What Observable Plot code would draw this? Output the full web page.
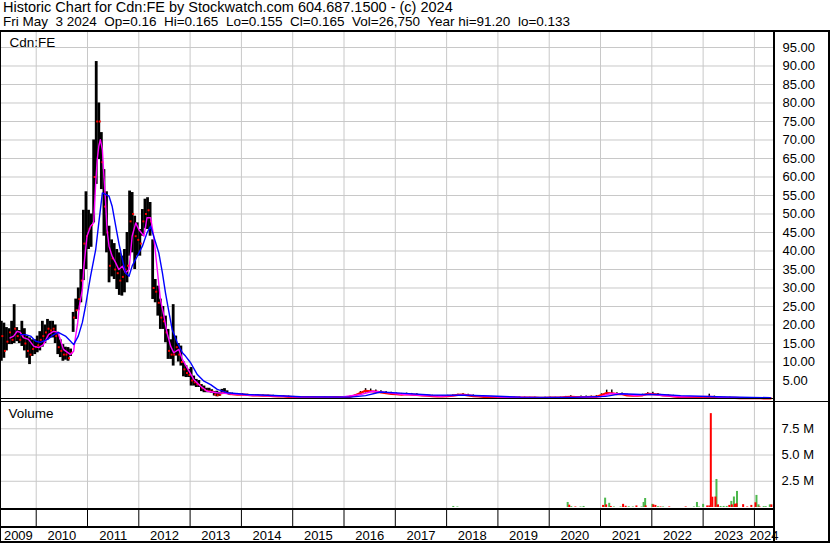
<!DOCTYPE html>
<html><head><meta charset="utf-8">
<script src="https://cdn.jsdelivr.net/npm/d3@7"></script>
<script src="https://cdn.jsdelivr.net/npm/@observablehq/plot@0.6"></script>
<style>
body{margin:0;background:#fff;}
#wrap{position:relative;width:830px;height:543px;overflow:hidden;font-family:"Liberation Sans",Arial,sans-serif;background:#fff;}
.ln{position:absolute;background:#000;}
.hdr{position:absolute;left:3px;line-height:14px;height:14px;white-space:pre;color:#000;}
.panel{position:absolute;left:0;}
.panel svg{display:block;overflow:visible;}
</style></head><body>
<div id="wrap">
<div class="hdr" id="h1" style="top:0px;font-size:14.5px"></div>
<div class="hdr" id="h2" style="top:15px;font-size:13.5px"></div>
<div id="price" class="panel" style="top:32px"></div>
<div id="vol" class="panel" style="top:402px"></div>
<div id="xax" class="panel" style="top:510px"></div>
<div class="ln" style="left:0;top:30px;width:830px;height:2px"></div>
<div class="ln" style="left:0;top:30px;width:1px;height:513px"></div>
<div class="ln" style="left:828px;top:30px;width:2px;height:513px"></div>
<div class="ln" style="left:773px;top:30px;width:2px;height:513px"></div>
<div class="ln" style="left:0;top:398px;width:774px;height:1px"></div>
<div class="ln" style="left:0;top:401px;width:830px;height:1px"></div>
<div class="ln" style="left:0;top:508px;width:775px;height:2px"></div>
<div class="ln" style="left:0;top:526px;width:775px;height:2px"></div>
<div class="ln" style="left:0;top:541px;width:830px;height:2px"></div>
</div>
<script>
const titleLine1 = "Historic Chart for Cdn:FE by Stockwatch.com 604.687.1500 - (c) 2024";
const titleLine2 = "Fri May  3 2024  Op=0.16  Hi=0.165  Lo=0.155  Cl=0.165  Vol=26,750  Year hi=91.20  lo=0.133";
const symbolLabel = "Cdn:FE";
const volumeLabel = "Volume";

const xDomain = [2009.304, 2024.372];
const gridYears = [2010,2011,2012,2013,2014,2015,2016,2017,2018,2019,2020,2021,2022,2023,2024];
const yearLabels = [2009,2010,2011,2012,2013,2014,2015,2016,2017,2018,2019,2020,2021,2022,2023,2024];
const priceTicks = [5,10,15,20,25,30,35,40,45,50,55,60,65,70,75,80,85,90,95];
const volumeTicks = [2.5,5,7.5];

// price bars (decimal year, low, high, close)
const barDate = [
2009.32,2009.37,2009.42,2009.47,2009.52,2009.57,2009.62,2009.67,2009.72,2009.77,2009.82,2009.87,2009.92,2009.97,
2010.02,2010.07,2010.12,2010.17,2010.22,2010.27,2010.32,2010.37,2010.42,2010.47,2010.52,2010.57,2010.62,2010.67,2010.72,2010.77,2010.82,2010.87,2010.92,2010.97,
2011.02,2011.07,2011.12,2011.17,2011.22,2011.27,2011.32,2011.37,2011.42,2011.47,2011.52,2011.57,2011.62,2011.67,2011.72,2011.77,2011.82,2011.87,2011.92,2011.97,
2012.02,2012.07,2012.12,2012.17,2012.22,2012.27,2012.32,2012.37,2012.42,2012.47,2012.52,2012.57,2012.62,2012.67,2012.72,2012.77,2012.82,2012.87,2012.92,2012.97,
2013.02,2013.07,2013.12,2013.17,2013.22,2013.27,2013.32,2013.37,2013.42,2013.47,2013.52,2013.57,2013.62,2013.67,2013.72,2013.77,
2013.82,2013.92,2014.02,2014.12,2014.22,2014.32,2014.42,2014.52,2014.62,2014.72,2014.82,2014.92,
2015.02,2015.12,2015.22,2015.32,2015.42,2015.52,2015.62,2015.72,2015.82,2015.92,
2016.02,2016.12,2016.22,2016.32,2016.42,2016.52,2016.62,2016.72,2016.82,2016.92,
2017.02,2017.12,2017.22,2017.32,2017.42,2017.52,2017.62,2017.72,2017.82,2017.92,
2018.02,2018.12,2018.22,2018.32,2018.42,2018.52,2018.62,2018.72,2018.82,2018.92,
2019.02,2019.12,2019.22,2019.32,2019.42,2019.52,2019.62,2019.72,2019.82,2019.92,
2020.02,2020.12,2020.22,2020.32,2020.42,2020.52,2020.62,2020.72,2020.82,2020.92,
2021.02,2021.12,2021.22,2021.32,2021.42,2021.52,2021.62,2021.72,2021.82,2021.92,
2022.02,2022.12,2022.22,2022.32,2022.42,2022.52,2022.62,2022.72,2022.82,2022.92,
2023.02,2023.12,2023.22,2023.32,2023.42,2023.52,2023.62,2023.72,2023.82,2023.92,
2024.02,2024.12,2024.22,2024.32];
const barLow = [
10.2,11,13,14.7,14.7,15,15.5,15,14.2,13,11,9.3,11.5,12,
12.5,13,14,15,16,16.5,16.5,15,12,11.2,10.2,10.5,10.2,11.5,18,21.5,24,26,32,35,
40.4,41,47.6,58,64.7,56.6,44,39.5,31.4,33,32.3,29.6,28,27.8,28.7,31.4,38.6,39.5,35,38.6,
38.6,44,46,45.8,44,26.9,26,22.4,18.8,18.8,15.2,10.7,10.7,8.9,11.6,10,8.9,6,5.8,5.8,
3.5,3.5,3.1,3.1,2,1.7,1.7,1.7,1.5,0.8,0.6,0.7,1.2,1.3,1.2,1,
1.0,1.0,1.0,0.9,0.9,0.8,0.8,0.7,0.7,0.6,0.6,0.5,
0.4,0.4,0.4,0.4,0.4,0.35,0.35,0.35,0.35,0.4,
0.4,0.4,0.6,1.0,1.6,1.8,1.7,1.5,1.3,1.2,
1.1,1.0,1.0,1.0,0.9,0.8,0.7,0.6,0.6,0.6,
0.6,0.7,0.8,0.9,0.8,0.6,0.5,0.5,0.4,0.4,
0.4,0.35,0.35,0.3,0.3,0.3,0.25,0.25,0.25,0.25,
0.25,0.25,0.25,0.3,0.4,0.35,0.35,0.35,0.4,0.4,
0.6,1.1,1.2,1.1,1.0,0.8,0.7,0.7,0.8,1.0,
1.0,0.9,0.8,0.7,0.6,0.5,0.4,0.4,0.35,0.35,
0.3,0.3,0.3,0.25,0.25,0.2,0.2,0.2,0.18,0.18,
0.15,0.15,0.14,0.133];
const barHigh = [
21,20.5,19.3,19,21,25.5,19.3,18.5,21,19,17,16.5,16,16,
17,18.2,21,20,21.5,21,21,20,18,16,14.7,14,13.9,13.5,23.4,27,30,35,51,56,
51,50,70,91.2,80,72,62,56,46.7,43,42,40.4,39.5,38.6,40.4,45,56.2,55.8,49.4,47.6,
45.8,51.2,54,54.4,53.1,43,32.3,30.5,27,25,22.4,18.8,16,25.5,17,15,14.3,10,9,8,
8.5,6.2,5.3,5,3.9,3.5,2.9,2.9,2.5,2,2.1,1.8,2.6,2.8,2.2,1.6,
1.6,1.5,1.4,1.3,1.2,1.2,1.1,1.0,1.0,0.9,0.9,0.8,
0.7,0.7,0.6,0.6,0.6,0.55,0.55,0.55,0.6,0.6,
0.7,0.8,1.2,2.0,2.8,2.7,2.4,2.2,2.0,1.8,
1.6,1.5,1.6,1.5,1.4,1.2,1.1,1.0,0.9,0.9,
1.0,1.1,1.3,1.4,1.3,1.1,0.9,0.8,0.7,0.7,
0.6,0.6,0.55,0.5,0.5,0.5,0.45,0.45,0.4,0.45,
0.5,0.45,0.5,0.7,0.9,0.7,0.8,0.8,0.8,0.9,
1.4,2.4,2.4,1.7,1.6,1.3,1.1,1.1,1.3,1.7,
1.8,1.5,1.2,1.1,1.0,0.8,0.7,0.7,0.6,0.6,
0.6,1.3,0.8,0.5,0.45,0.45,0.4,0.4,0.35,0.35,
0.3,0.3,0.25,0.2];
const barClose = [
17,13,15.5,18,16,19,17,16,17,15,13,12,13.5,14,
14.5,16,17,18,19,18.5,19,17,14,13,12,12,11,12.5,22,24,27,32,42,44,
46,47,60,75,75,64,52,45,36,38,35,34,32,33,35,36,48,50,44,43,
42,48,50,51,48,30,29,26,22,21,18,13,12,12,14,12,10,8,7,6.5,
5,4.5,4,3.8,3,2.5,2.2,2.1,2,1.2,1,1.2,1.6,1.8,1.5,1.3,
1.3,1.2,1.2,1.1,1.0,1.0,0.9,0.9,0.8,0.7,0.7,0.6,
0.5,0.5,0.5,0.5,0.5,0.45,0.45,0.45,0.5,0.5,
0.5,0.6,1.0,1.6,2.2,2.1,2.0,1.8,1.6,1.4,
1.3,1.2,1.3,1.2,1.1,1.0,0.9,0.8,0.7,0.7,
0.8,0.9,1.1,1.2,1.0,0.8,0.7,0.6,0.5,0.5,
0.5,0.45,0.4,0.4,0.4,0.4,0.35,0.35,0.3,0.3,
0.35,0.35,0.35,0.5,0.6,0.5,0.5,0.5,0.55,0.6,
1.1,1.6,1.5,1.3,1.3,1.0,0.9,0.9,1.0,1.4,
1.3,1.2,1.0,0.9,0.7,0.6,0.5,0.5,0.45,0.45,
0.4,0.6,0.4,0.35,0.3,0.3,0.3,0.25,0.25,0.22,
0.2,0.2,0.18,0.165];

// short moving average (magenta)
const maShortDate = [2009.49,2009.56,2009.63,2009.69,2009.75,2009.85,2009.95,2010.05,2010.14,2010.24,2010.34,2010.42,2010.47,2010.53,2010.61,2010.67,2010.73,2010.75,2010.81,2010.84,2010.90,2010.93,2010.99,2011.06,2011.12,2011.16,2011.19,2011.22,2011.25,2011.29,2011.32,2011.35,2011.38,2011.42,2011.48,2011.55,2011.61,2011.68,2011.74,2011.81,2011.87,2011.94,2012.00,2012.10,2012.16,2012.23,2012.29,2012.36,2012.42,2012.49,2012.55,2012.62,2012.68,2012.78,2012.85,2012.94,2013.07,2013.20,2013.33,2013.53,2013.79,2014.18,2015.15,2015.93,2016.32,2016.56,2016.81,2017.10,2017.49,2017.88,2018.31,2018.56,2019.05,2019.83,2020.47,2021.00,2021.20,2021.49,2021.68,2021.98,2022.17,2022.56,2023.18,2023.34,2024.31];
const maShortValue = [16.5,17,18.3,18,16.6,16.1,14.3,13.9,14.7,17.4,18.3,18,16.1,13.4,12.6,12,12.9,15.3,20.7,25,29.6,35.9,44,46.7,47.6,58.4,64.7,68.3,70.1,67.4,60.2,53.9,45.8,41.3,38.6,36.8,35,35.9,34.1,35,44,47.6,45.8,44,49,49,44,35,27,22.4,17.9,14.3,12.5,13.4,10.7,8.5,5.3,3.5,2.1,1.7,1.4,1.0,0.55,0.5,1.2,2.1,1.8,1.3,1.0,0.7,1.1,0.9,0.5,0.35,0.45,0.6,1.5,1.3,0.9,1.3,1.0,0.6,0.7,0.4,0.2];

// long moving average (blue)
const maLongDate = [2009.69,2009.79,2009.89,2009.99,2010.08,2010.22,2010.34,2010.43,2010.57,2010.67,2010.73,2010.82,2010.90,2010.96,2011.02,2011.06,2011.16,2011.22,2011.29,2011.35,2011.42,2011.48,2011.55,2011.61,2011.68,2011.74,2011.81,2011.87,2011.97,2012.07,2012.16,2012.23,2012.29,2012.39,2012.46,2012.52,2012.59,2012.65,2012.75,2012.85,2012.91,2013.01,2013.14,2013.27,2013.40,2013.53,2013.72,2014.11,2014.63,2015.15,2016.13,2016.42,2016.71,2017.10,2017.69,2018.37,2018.86,2019.44,2020.47,2021.10,2021.39,2021.78,2022.17,2022.56,2023.24,2024.31];
const maLongValue = [17.4,17.4,17,15.6,15.3,16.1,17.4,18,17,15.6,14.7,17,20.7,25,30,33.2,40.4,47.6,55.7,55.3,54.8,52.1,46.7,42.2,37.7,34.1,33.2,35.9,38.6,41.3,44.9,46.7,44,39.5,34.1,28.7,23.3,18.8,15.2,12.5,11.6,9.8,6.6,4.8,3.9,2.6,1.7,1.2,0.95,0.6,0.5,0.9,1.9,1.6,1.1,1.0,0.8,0.5,0.45,0.7,1.4,1.2,1.2,0.9,0.6,0.35];

// volume (millions of shares), direction 1 = up (green), 0 = down (red)
const volDate = [2018.13,2018.21,2020.36,2020.39,2020.43,2020.51,2020.61,2020.67,2021.05,2021.09,2021.11,2021.17,2021.20,2021.26,2021.39,2021.44,2021.49,2021.55,2021.63,2021.70,2021.80,2021.84,2021.87,2021.88,2022.01,2022.03,2022.07,2022.12,2022.17,2022.22,2022.34,2022.66,2022.82,2022.88,2022.92,2023.00,2023.08,2023.12,2023.15,2023.18,2023.24,2023.26,2023.29,2023.34,2023.40,2023.46,2023.51,2023.55,2023.56,2023.60,2023.62,2023.65,2023.66,2023.78,2023.86,2023.94,2024.02,2024.04,2024.08,2024.10,2024.18,2024.22,2024.30,2024.33];
const volMillions = [0.1,0.05,0.48,0.22,0.08,0.05,0.05,0.1,0.2,0.89,0.25,0.4,0.1,0.05,0.05,0.3,0.12,0.07,0.05,0.15,0.05,0.48,0.86,0.15,0.3,0.25,0.2,0.08,0.05,0.05,0.05,0.05,0.05,0.48,0.05,0.3,0.15,0.15,8.94,0.98,1.0,2.67,0.25,0.1,0.1,0.1,0.2,0.58,0.25,1.0,0.3,0.35,1.53,0.27,0.05,0.2,0.45,1.15,0.25,0.05,0.08,0.08,0.25,0.25];
const volUp = [1,1,1,0,1,0,1,1,0,1,0,1,0,1,1,0,0,1,1,0,1,1,1,0,1,0,0,1,0,1,0,0,1,1,1,1,0,0,0,0,0,1,0,1,1,1,0,1,0,1,0,0,1,0,0,0,0,1,1,0,1,1,1,0];

const FONT = '"Liberation Sans", Arial, sans-serif';
const GRID = "#c8c8c8";

document.getElementById("h1").textContent = titleLine1;
document.getElementById("h2").textContent = titleLine2;

const bars = barDate.map((t, i) => ({t, lo: barLow[i], hi: barHigh[i], cl: barClose[i]}));
const early = bars.filter(d => d.t < 2013.8);
const late = bars.filter(d => d.t >= 2013.8);
const maShort = maShortDate.map((t, i) => ({t, v: maShortValue[i]}));
const maLong = maLongDate.map((t, i) => ({t, v: maLongValue[i]}));
const vols = volDate.map((t, i) => ({t, v: volMillions[i], up: volUp[i] === 1}));

const pricePlot = Plot.plot({
  width: 830, height: 367,
  marginTop: 0, marginBottom: 0, marginLeft: 0, marginRight: 57,
  style: {fontFamily: FONT, fontSize: "13px", background: "transparent", color: "#000"},
  x: {domain: xDomain, axis: null},
  y: {domain: [0, 99.05], range: [366.5, 0]},
  marks: [
    Plot.ruleX(gridYears, {stroke: GRID, strokeWidth: 1}),
    Plot.ruleY(priceTicks, {stroke: GRID, strokeWidth: 1}),
    Plot.ruleX(early, {x: "t", y1: "lo", y2: "hi", stroke: "#000", strokeWidth: 2.8}),
    Plot.ruleX(late, {x: "t", y1: "lo", y2: "hi", stroke: "#000", strokeWidth: 1.5}),
    Plot.line(late, {x: "t", y: "cl", stroke: "#ff0000", strokeWidth: 2.2}),
    Plot.dot(early, {x: "t", y: "cl", symbol: "square", r: 1.1, fill: "#ff0000", dx: 1}),
    Plot.line(maShort, {x: "t", y: "v", stroke: "#ff00ff", strokeWidth: 1.4}),
    Plot.line(maLong, {x: "t", y: "v", stroke: "#0000ff", strokeWidth: 1.4}),
    Plot.axisY(priceTicks, {anchor: "right", tickSize: 0, tickPadding: 9, tickFormat: d3.format(".2f"), fontSize: 13, label: null}),
    Plot.text([symbolLabel], {text: d => d, frameAnchor: "top-left", dx: 9, dy: 10, textAnchor: "start", lineAnchor: "middle", fontSize: 13.5})
  ]
});
document.getElementById("price").append(pricePlot);

const volPlot = Plot.plot({
  width: 830, height: 106,
  marginTop: 0, marginBottom: 0, marginLeft: 0, marginRight: 57,
  style: {fontFamily: FONT, fontSize: "13px", background: "transparent", color: "#000"},
  x: {domain: xDomain, axis: null},
  y: {domain: [0, 10], range: [105, 0]},
  marks: [
    Plot.ruleX(gridYears, {stroke: GRID, strokeWidth: 1}),
    Plot.ruleY(volumeTicks, {stroke: GRID, strokeWidth: 1}),
    Plot.ruleX(vols.filter(d => d.up), {x: "t", y1: 0, y2: "v", stroke: "#4cb84c", strokeWidth: 2}),
    Plot.ruleX(vols.filter(d => !d.up), {x: "t", y1: 0, y2: "v", stroke: "#ff0000", strokeWidth: 2}),
    Plot.axisY(volumeTicks, {anchor: "right", tickSize: 0, tickPadding: 8, tickFormat: d => d.toFixed(1) + " M", fontSize: 13, label: null}),
    Plot.text([volumeLabel], {text: d => d, frameAnchor: "top-left", dx: 8, dy: 11, textAnchor: "start", lineAnchor: "middle", fontSize: 13.5})
  ]
});
document.getElementById("vol").append(volPlot);

const labelData = yearLabels.map(y => ({
  label: String(y),
  mid: (Math.max(y, xDomain[0]) + Math.min(y + 1, xDomain[1])) / 2
}));
const axisPlot = Plot.plot({
  width: 830, height: 33,
  marginTop: 0, marginBottom: 17, marginLeft: 0, marginRight: 57,
  style: {fontFamily: FONT, fontSize: "13px", background: "transparent", color: "#000"},
  x: {domain: xDomain, axis: null},
  marks: [
    Plot.ruleX(gridYears, {stroke: "#000", strokeWidth: 1}),
    Plot.text(labelData, {x: "mid", text: "label", frameAnchor: "bottom", dy: 9, lineAnchor: "middle", fontSize: 13})
  ]
});
document.getElementById("xax").append(axisPlot);
</script>
</body></html>
